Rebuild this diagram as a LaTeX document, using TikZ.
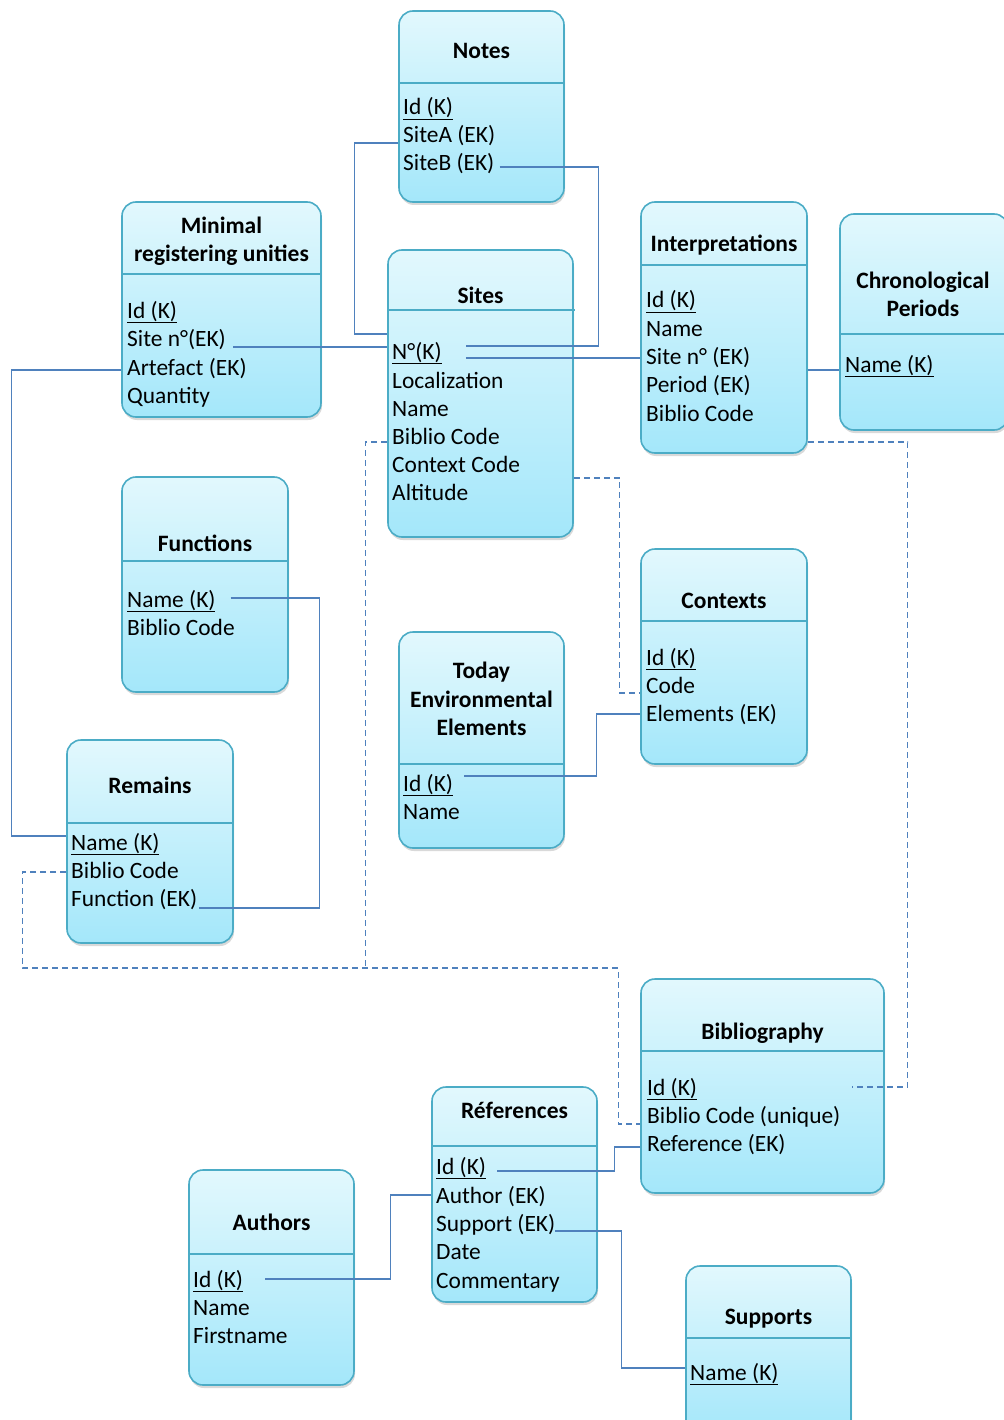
\documentclass[tikz,border=0pt]{standalone}
\usepackage{fontspec}
\setmainfont{Carlito}
\usetikzlibrary{fit,calc,shadows}
\definecolor{entborder}{RGB}{75,172,198}
\definecolor{enttop}{RGB}{226,248,253}
\definecolor{entbot}{RGB}{164,231,250}
\definecolor{linkblue}{RGB}{79,129,189}

\begin{document}
\begin{tikzpicture}[x=1pt,y=-1pt,
  entity/.style={draw=entborder,line width=1.6pt,rounded corners=14pt,inner sep=0pt,
    top color=enttop,bottom color=entbot,
    drop shadow={opacity=0.3,shadow xshift=1pt,shadow yshift=-3pt}},
  sepline/.style={draw=entborder,line width=1.3pt},
  title/.style={anchor=base,align=center,inner sep=0pt,yshift=-1.5pt,
    font=\bfseries\fontsize{23.5}{28.3}\selectfont},
  field/.style={anchor=base west,inner sep=0pt,yshift=-1pt,font=\fontsize{23.4}{28}\selectfont},
  link/.style={draw=linkblue,line width=1.2pt},
  optlink/.style={link,line width=1.3pt,dash pattern=on 6pt off 4pt}]
\useasboundingbox (0,0) rectangle (1003,1420);
% ================= Notes =================
\node[entity,fit={(399,11) (564,202)}] (notes) {};
\draw[sepline] (399,83) -- (564,83);
\node[title] (notes-t) at (481.5,57) {Notes};
\node[field] (notes-id) at (403,114) {\underline{Id (K)}};
\node[field] (notes-sitea) at (403,142) {SiteA (EK)};
\node[field] (notes-siteb) at (403,170) {SiteB (EK)};
% ================= Minimal registering unities =================
\node[entity,fit={(122,202) (321,417)}] (mru) {};
\draw[sepline] (122,274) -- (321,274);
\node[title] (mru-t) at (221.5,260) {Minimal\\registering unities};
\node[field] (mru-id) at (127,317) {\underline{Id (K)}};
\node[field] (mru-site) at (127,345) {Site n°(EK)};
\node[field] (mru-artefact) at (127,374) {Artefact (EK)};
\node[field] (mru-qty) at (127,402) {Quantity};
% ================= Sites =================
\node[entity,fit={(388,250) (573,537)}] (sites) {};
\draw[sepline] (388,310) -- (575,310);
\node[title] (sites-t) at (480.5,302) {Sites};
\node[field] (sites-no) at (392,358) {\underline{N°(K)}};
\node[field] (sites-loc) at (392,387) {Localization};
\node[field] (sites-name) at (392,415) {Name};
\node[field] (sites-biblio) at (392,443) {Biblio Code};
\node[field] (sites-context) at (392,471) {Context Code};
\node[field] (sites-alt) at (392,499) {Altitude};
% ================= Interpretations =================
\node[entity,fit={(641,202) (807,453)}] (interp) {};
\draw[sepline] (641,265) -- (807,265);
\node[title] (interp-t) at (724,250) {Interpretations};
\node[field] (interp-id) at (646,307) {\underline{Id (K)}};
\node[field] (interp-name) at (646,335) {Name};
\node[field] (interp-site) at (646,363) {Site n° (EK)};
\node[field] (interp-period) at (646,391) {Period (EK)};
\node[field] (interp-biblio) at (646,420) {Biblio Code};
% ================= Chronological Periods =================
\node[entity,fit={(840,214) (1008,430)}] (chrono) {};
\draw[sepline] (840,334) -- (1008,334);
\node[title] (chrono-t) at (923,315) {Chronological\\Periods};
\node[field] (chrono-name) at (845,371) {\underline{Name (K)}};
% ================= Functions =================
\node[entity,fit={(122,477) (288,692)}] (func) {};
\draw[sepline] (122,561) -- (288,561);
\node[title] (func-t) at (205,550) {Functions};
\node[field] (func-name) at (127,606) {\underline{Name (K)}};
\node[field] (func-biblio) at (127,634) {Biblio Code};
% ================= Contexts =================
\node[entity,fit={(641,549) (807,764)}] (ctx) {};
\draw[sepline] (641,621) -- (807,621);
\node[title] (ctx-t) at (724,607) {Contexts};
\node[field] (ctx-id) at (646,664) {\underline{Id (K)}};
\node[field] (ctx-code) at (646,692) {Code};
\node[field] (ctx-elem) at (646,720) {Elements (EK)};
% ================= Today Environmental Elements =================
\node[entity,fit={(399,632) (564,848)}] (today) {};
\draw[sepline] (399,764) -- (564,764);
\node[title] (today-t) at (481.5,734) {Today\\Environmental\\Elements};
\node[field] (today-id) at (403,790) {\underline{Id (K)}};
\node[field] (today-name) at (403,818) {Name};
% ================= Remains =================
\node[entity,fit={(67,740) (233,943)}] (remains) {};
\draw[sepline] (67,823) -- (233,823);
\node[title] (rem-t) at (150,792) {Remains};
\node[field] (rem-name) at (71,849) {\underline{Name (K)}};
\node[field] (rem-biblio) at (71,877) {Biblio Code};
\node[field] (rem-func) at (71,905) {Function (EK)};
% ================= Bibliography =================
\node[entity,fit={(641,979) (884,1193)}] (bib) {};
\draw[sepline] (641,1051) -- (884,1051);
\node[title] (bib-t) at (762.5,1038) {Bibliography};
\node[field] (bib-id) at (647,1094) {\underline{Id (K)}};
\node[field] (bib-code) at (647,1122) {Biblio Code (unique)};
\node[field] (bib-ref) at (647,1150) {Reference (EK)};
% ================= Réferences =================
\node[entity,fit={(432,1087) (597,1302)}] (refs) {};
\draw[sepline] (432,1146) -- (597,1146);
\node[title] (refs-t) at (514.5,1117) {Réferences};
\node[field] (ref-id) at (436,1173) {\underline{Id (K)}};
\node[field] (ref-author) at (436,1202) {Author (EK)};
\node[field] (ref-support) at (436,1230) {Support (EK)};
\node[field] (ref-date) at (436,1258) {Date};
\node[field] (ref-comment) at (436,1287) {Commentary};
% ================= Authors =================
\node[entity,fit={(189,1170) (354,1385)}] (authors) {};
\draw[sepline] (189,1254) -- (354,1254);
\node[title] (auth-t) at (271.5,1229) {Authors};
\node[field] (auth-id) at (193,1286) {\underline{Id (K)}};
\node[field] (auth-name) at (193,1314) {Name};
\node[field] (auth-first) at (193,1342) {Firstname};
% ================= Supports =================
\node[entity,fit={(686,1266) (851,1434)}] (supports) {};
\draw[sepline] (686,1338) -- (851,1338);
\node[title] (sup-t) at (768.5,1323) {Supports};
\node[field] (sup-name) at (690,1379) {\underline{Name (K)}};
% ================= links =================
% Notes -> Sites
\draw[link] (notes.west |- notes-sitea.base) -- ++(-44,0) |- ($(sites.west |- sites-no.base)+(0,-25)$);
\draw[link] ($(notes-siteb.base east)+(5,-4)$) -- ++(99,0) |- ($(sites-no.base east)+(24,-13)$);
% Sites N° -> Minimal / Interpretations
\draw[link] ($(mru-site.base east)+(7,1)$) -- ($(sites.west |- mru-site.base)+(0,1)$);
\draw[link] ($(sites-no.base east)+(24,-1)$) -- ($(interp.west |- sites-no.base)+(0,-1)$);
% Period -> Chronological Periods
\draw[link] ($(interp.east |- chrono-name.base)+(0,-2)$) -- ($(chrono.west |- chrono-name.base)+(0,-2)$);
% Artefact -> Remains, Function -> Functions
\draw[link] ($(mru.west |- mru-artefact.base)+(0,-5)$) -- ++(-110,0) |- ($(remains.west |- rem-name.base)+(0,-14)$);
\draw[link] ($(func-name.base east)+(15,-9)$) -- ++(89,0) |- ($(rem-func.base east)+(2,2)$);
% Elements -> Today Environmental Elements
\draw[link] ($(today-id.base east)+(11,-15)$) -- ++(132,0) |- ($(ctx.west |- ctx-elem.base)+(0,-7)$);
% Bibliography / Authors / Supports -> Réferences
\draw[link] ($(bib.west |- bib-ref.base)+(0,-4)$) -- ++(-26,0) |- ($(ref-id.base east)+(11,-3)$);
\draw[link] ($(auth-id.base east)+(22,-8)$) -- ++(125,0) |- ($(refs.west |- ref-author.base)+(0,-8)$);
\draw[link] (ref-support.base east) -- ++(66,0) |- ($(supports.west |- sup-name.base)+(0,-12)$);
% biblio codes (dashed)
\draw[optlink] ($(remains.west |- rem-biblio.base)+(0,-6)$) -- ++(-44,0) -- ++(0,96) coordinate (bus)
  -- ++(596,0) |- ($(bib.west |- bib-code.base)+(0,1)$);
\draw[optlink] ($(sites.west |- sites-biblio.base)+(0,-2)$) -- ++(-22,0) coordinate (sbx) -- (sbx |- bus);
\draw[optlink] ($(interp.east |- interp-biblio.base)+(0,21)$) -- ++(100,0) |- ($(bib.east |- bib-id.base)+(-33,-8)$);
% context code (dashed)
\draw[optlink] ($(sites.east |- sites-context.base)+(0,6)$) -- ++(46,0) |- (ctx.west |- ctx-code.base);
\end{tikzpicture}
\end{document}
